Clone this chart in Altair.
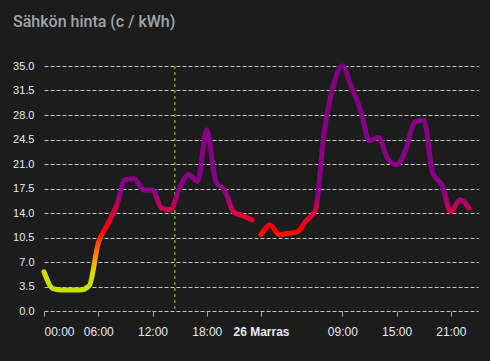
import altair as alt
import pandas as pd

title_text = "Sähkön hinta (c / kWh)"
hours = list(range(24))
day1_prices = [5.6, 3.2, 3.0, 3.0, 3.0, 3.6, 9.7, 12.3, 15.0, 18.8, 18.9, 17.3,
               17.3, 14.7, 14.5, 17.6, 19.5, 18.5, 25.9, 18.5, 17.2, 14.1, 13.6, 13.0]
day2_prices = [10.9, 12.3, 10.9, 11.1, 11.3, 12.9, 14.3, 25.7, 32.2, 35.0, 32.0, 28.7,
               24.3, 24.8, 21.8, 20.9, 23.0, 27.0, 27.3, 19.7, 18.0, 14.2, 15.9, 14.7]
now_hour = [14.47]
tick_hours = [0, 6, 12, 18, 24, 33, 39, 45]
y_ticks = [0, 3.5, 7, 10.5, 14, 17.5, 21, 24.5, 28, 31.5, 35]

# value -> colour thresholds
thresholds = [(0.0, "#b0dc00"), (3.0, "#c2e200"), (5.5, "#d8e000"), (7.5, "#ff9a00"),
              (9.5, "#ff5000"), (11.5, "#ff0000"), (14.0, "#dc0040"),
              (17.0, "#8a0088"), (40.0, "#800080")]


def hex2rgb(h):
    h = h.lstrip("#")
    return [int(h[i:i + 2], 16) for i in (0, 2, 4)]


def color_at(v):
    for (a, ca), (b, cb) in zip(thresholds[:-1], thresholds[1:]):
        if a <= v <= b:
            t = (v - a) / (b - a) if b > a else 0
            r = [round(x + (y - x) * t) for x, y in zip(hex2rgb(ca), hex2rgb(cb))]
            return "#%02x%02x%02x" % tuple(r)
    return thresholds[-1][1] if v > thresholds[-1][0] else thresholds[0][1]


def gradient_for(values):
    lo, hi = min(values), max(values)
    stops = [alt.GradientStop(offset=0, color=color_at(lo))]
    for v, c in thresholds:
        if lo < v < hi:
            stops.append(alt.GradientStop(offset=(v - lo) / (hi - lo), color=c))
    stops.append(alt.GradientStop(offset=1, color=color_at(hi)))
    return alt.Gradient(gradient="linear", stops=stops, x1=0, x2=0, y1=1, y2=0)


df1 = pd.DataFrame({"h": hours, "price": day1_prices})
df2 = pd.DataFrame({"h": [h + 24 for h in hours], "price": day2_prices})
now_df = pd.DataFrame({"h": now_hour})

label_expr = ("datum.value == 24 ? '26 Marras' : "
              "((datum.value % 24) < 10 ? '0' : '') + (datum.value % 24) + ':00'")

x_enc = alt.X("h:Q", scale=alt.Scale(domain=[0, 48], nice=False, zero=False),
              axis=alt.Axis(values=tick_hours, labelExpr=label_expr, title=None,
                            grid=False, domain=False, ticks=True, tickSize=5,
                            tickColor="#a8a8a8", labelColor="#e6ebf2",
                            labelFont="Liberation Sans", labelFontSize=12,
                            labelPadding=10,
                            labelFontWeight=alt.condition("datum.value == 24",
                                                          alt.value("bold"),
                                                          alt.value("normal"))))
y_enc = alt.Y("price:Q", scale=alt.Scale(domain=[0, 35], nice=False),
              axis=alt.Axis(values=y_ticks, format=".1f", title=None, domain=False,
                            ticks=False, grid=True, gridColor="#c4c4c4",
                            gridDash=[4, 2], gridWidth=1, labelColor="#e6ebf2",
                            labelFont="Liberation Sans", labelFontSize=11,
                            labelPadding=10))

now_rule = alt.Chart(now_df).mark_rule(color="#5fa400", strokeDash=[3, 3],
                                       strokeWidth=1.5).encode(x=x_enc)

line1 = alt.Chart(df1).mark_line(color=gradient_for(day1_prices), strokeWidth=5,
                                 interpolate="monotone", strokeCap="round",
                                 strokeJoin="round").encode(x=x_enc, y=y_enc)
line2 = alt.Chart(df2).mark_line(color=gradient_for(day2_prices), strokeWidth=5,
                                 interpolate="monotone", strokeCap="round",
                                 strokeJoin="round").encode(x=x_enc, y=y_enc)

chart = alt.layer(now_rule, line1, line2).properties(
    width=434, height=245,
    padding={"left": 44, "top": 66, "right": 12, "bottom": 50},
    autosize=alt.AutoSizeParams(type="none"),
    background="#1c1c1c",
    title=alt.TitleParams(title_text, anchor="start", frame="group", dx=-31,
                          offset=30, fontSize=16, font="Roboto", fontWeight=500,
                          color="#a0a5aa"),
).configure_view(stroke=None)

chart.save("out.html", embed_options={"renderer": "svg", "actions": False})
